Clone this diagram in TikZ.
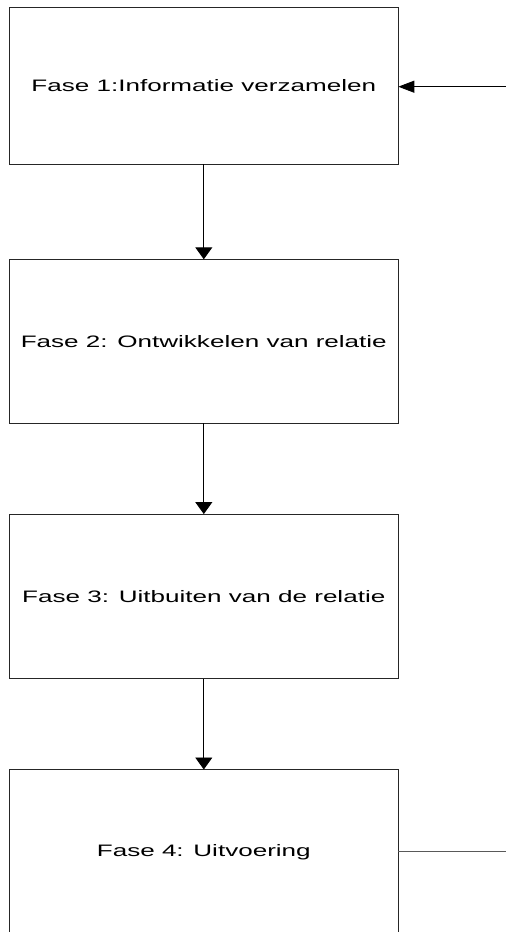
\documentclass[tikz,border=0pt]{standalone}
\usepackage{fontspec}
\setmainfont{Liberation Sans}
\usetikzlibrary{arrows.meta}
% labels are set in a horizontally widened face
\newcommand{\widelabel}[1]{\scalebox{1.57}[1]{\fontsize{16.6}{20}\selectfont #1}}
\begin{document}
\begin{tikzpicture}[x=1pt,y=-1pt,
  phase/.style={draw=black!85, line width=1pt, minimum width=389pt,
    inner sep=0pt, outer sep=0pt, fill=white},
  flow/.style={-{Triangle[length=12pt,width=17pt]}, line width=0.9pt, black},
  feedin/.style={-{Triangle[length=16pt,width=12pt]}, line width=0.9pt, black},
  feedout/.style={line width=0.8pt, black!65}]
\useasboundingbox (0,0) rectangle (506,932);

\node[phase, minimum height=157pt]   (p1) at (203.8,85.5)  {\widelabel{Fase 1:Informatie verzamelen}};
\node[phase, minimum height=164pt]   (p2) at (203.8,341.3) {\widelabel{Fase 2: Ontwikkelen van relatie}};
\node[phase, minimum height=164.7pt] (p3) at (203.8,596.4) {\widelabel{Fase 3: Uitbuiten van de relatie}};
\node[phase, minimum height=164.4pt] (p4) at (203.8,851.7) {\widelabel{Fase 4: Uitvoering}};

\draw[flow] (p1.south) -- (p2.north);
\draw[flow] (p2.south) -- (p3.north);
\draw[flow] (p3.south) -- (p4.north);

% loose ends at the right margin
\coordinate (loopin)  at (506,86.7);
\coordinate (loopout) at (506,851.7);
\draw[feedin] (loopin) -- (loopin -| p1.east);
\draw[feedout] (p4.east) -- (loopout);
\end{tikzpicture}
\end{document}
